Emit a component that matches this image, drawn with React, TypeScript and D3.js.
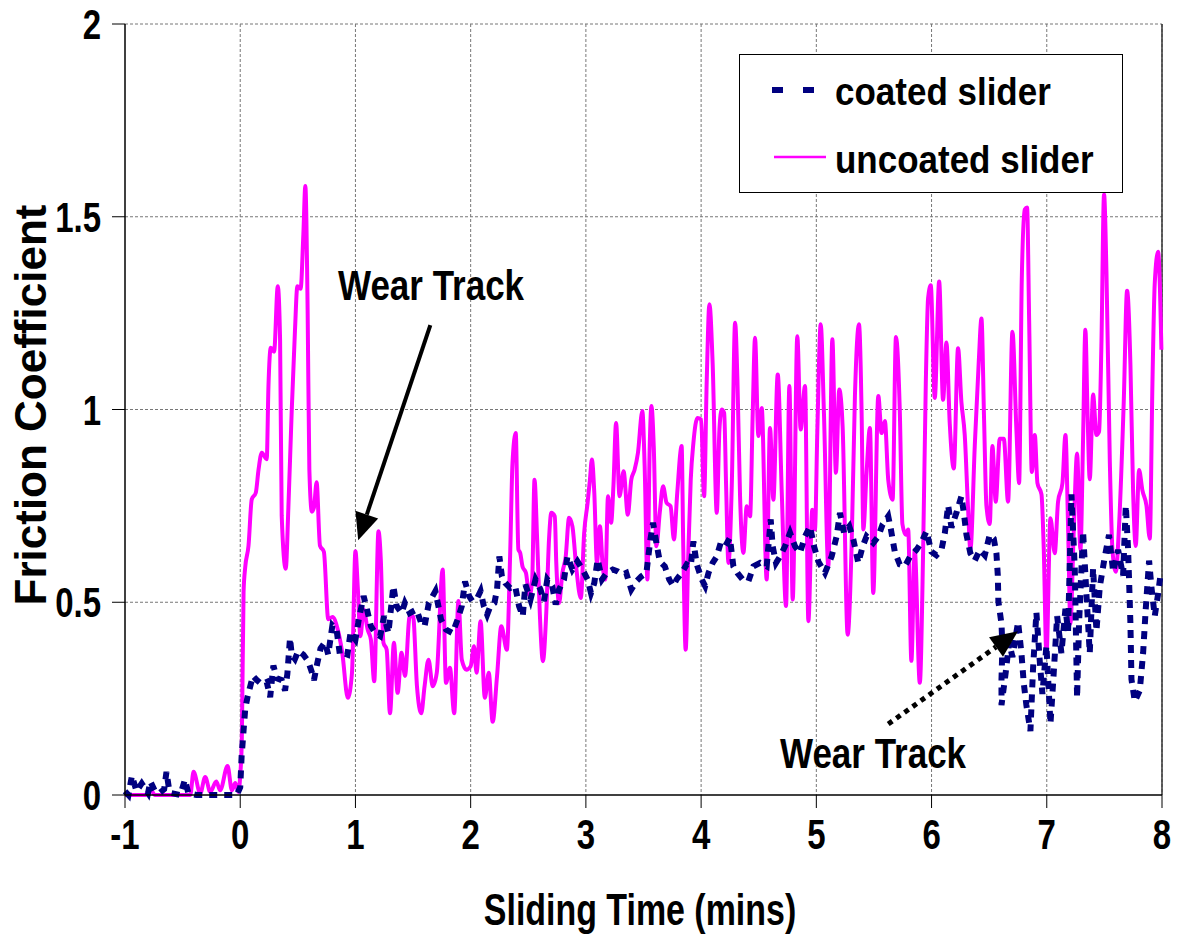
import React from 'react';
import * as d3 from 'd3';

// [sliding time (mins), friction coefficient]
const coatedSlider: [number, number][] = [
    [-1, 0.01], [-0.97, 0.0], [-0.94, 0.05], [-0.9, 0.01], [-0.855, 0.03], [-0.8, 0.005], [-0.78, 0.035],
    [-0.74, 0.01], [-0.7, 0.005], [-0.66, 0.015], [-0.64, 0.06], [-0.62, 0.02], [-0.6, 0.005], [-0.52, 0.0],
    [-0.48, 0.04], [-0.45, 0.005], [-0.38, 0.0], [-0.2, 0.0], [-0.03, 0.0], [0.0, 0.02], [0.012, 0.1],
    [0.029, 0.167], [0.043, 0.222], [0.063, 0.254], [0.11, 0.309], [0.144, 0.298], [0.187, 0.287], [0.23, 0.293],
    [0.26, 0.254], [0.288, 0.336], [0.317, 0.303], [0.36, 0.298], [0.389, 0.271], [0.409, 0.314], [0.432, 0.407],
    [0.447, 0.364], [0.475, 0.353], [0.504, 0.374], [0.548, 0.364], [0.59, 0.347], [0.62, 0.32], [0.64, 0.298],
    [0.669, 0.342], [0.697, 0.38], [0.735, 0.396], [0.764, 0.364], [0.784, 0.407], [0.8, 0.44], [0.836, 0.429],
    [0.865, 0.364], [0.886, 0.369], [0.93, 0.364], [0.957, 0.42], [1.0, 0.403], [1.029, 0.455], [1.071, 0.516],
    [1.1, 0.481], [1.134, 0.438], [1.171, 0.42], [1.214, 0.412], [1.249, 0.464], [1.286, 0.42], [1.329, 0.542],
    [1.357, 0.49], [1.4, 0.472], [1.429, 0.498], [1.471, 0.472], [1.529, 0.481], [1.571, 0.446], [1.6, 0.438],
    [1.637, 0.498], [1.694, 0.529], [1.743, 0.455], [1.786, 0.429], [1.843, 0.42], [1.886, 0.455], [1.923, 0.49],
    [1.951, 0.554], [1.986, 0.516], [2.014, 0.503], [2.057, 0.511], [2.086, 0.529], [2.114, 0.49], [2.143, 0.468],
    [2.171, 0.49], [2.206, 0.498], [2.229, 0.533], [2.249, 0.619], [2.271, 0.567], [2.3, 0.55], [2.343, 0.537],
    [2.386, 0.542], [2.42, 0.49], [2.452, 0.464], [2.475, 0.546], [2.519, 0.507], [2.563, 0.559], [2.606, 0.533],
    [2.636, 0.503], [2.665, 0.559], [2.708, 0.542], [2.738, 0.494], [2.767, 0.533], [2.81, 0.559], [2.84, 0.619],
    [2.883, 0.585], [2.927, 0.606], [2.971, 0.585], [3.015, 0.559], [3.044, 0.524], [3.073, 0.55], [3.102, 0.611],
    [3.14, 0.559], [3.181, 0.576], [3.233, 0.585], [3.277, 0.58], [3.321, 0.572], [3.35, 0.576], [3.394, 0.533],
    [3.437, 0.554], [3.481, 0.567], [3.525, 0.576], [3.56, 0.663], [3.583, 0.706], [3.612, 0.654], [3.641, 0.606],
    [3.685, 0.593], [3.723, 0.559], [3.758, 0.542], [3.787, 0.559], [3.831, 0.576], [3.875, 0.598], [3.91, 0.593],
    [3.933, 0.658], [3.962, 0.598], [4.006, 0.559], [4.035, 0.542], [4.064, 0.576], [4.1, 0.602], [4.136, 0.619],
    [4.17, 0.654], [4.208, 0.645], [4.25, 0.667], [4.28, 0.593], [4.315, 0.576], [4.361, 0.559], [4.41, 0.554],
    [4.454, 0.593], [4.512, 0.602], [4.569, 0.593], [4.604, 0.715], [4.621, 0.645], [4.65, 0.602], [4.685, 0.619],
    [4.728, 0.645], [4.772, 0.68], [4.815, 0.645], [4.858, 0.628], [4.902, 0.671], [4.945, 0.697], [4.98, 0.645],
    [5.017, 0.606], [5.075, 0.576], [5.133, 0.619], [5.176, 0.671], [5.205, 0.732], [5.24, 0.68], [5.286, 0.697],
    [5.321, 0.663], [5.364, 0.602], [5.402, 0.645], [5.436, 0.671], [5.494, 0.654], [5.538, 0.671], [5.575, 0.702],
    [5.624, 0.723], [5.647, 0.689], [5.681, 0.631], [5.724, 0.598], [5.768, 0.593], [5.811, 0.617], [5.869, 0.636],
    [5.912, 0.655], [5.956, 0.684], [5.999, 0.631], [6.042, 0.622], [6.086, 0.636], [6.115, 0.679], [6.144, 0.751],
    [6.173, 0.694], [6.216, 0.732], [6.259, 0.775], [6.28, 0.732], [6.303, 0.675], [6.337, 0.627], [6.375, 0.608],
    [6.419, 0.636], [6.462, 0.622], [6.505, 0.675], [6.54, 0.665], [6.563, 0.627], [6.575, 0.569], [6.58, 0.502],
    [6.607, 0.444], [6.615, 0.387], [6.607, 0.3], [6.607, 0.233], [6.644, 0.319], [6.673, 0.396], [6.702, 0.358],
    [6.751, 0.449], [6.78, 0.368], [6.8, 0.291], [6.823, 0.233], [6.858, 0.166], [6.881, 0.329], [6.91, 0.473],
    [6.939, 0.348], [6.962, 0.262], [6.997, 0.387], [7.032, 0.185], [7.055, 0.291], [7.09, 0.464], [7.127, 0.368],
    [7.162, 0.483], [7.185, 0.425], [7.214, 0.78], [7.243, 0.588], [7.263, 0.252], [7.28, 0.444], [7.315, 0.684],
    [7.344, 0.521], [7.373, 0.368], [7.402, 0.588], [7.431, 0.425], [7.46, 0.54], [7.503, 0.617], [7.54, 0.675],
    [7.576, 0.579], [7.619, 0.636], [7.662, 0.569], [7.686, 0.751], [7.706, 0.636], [7.726, 0.444], [7.735, 0.3],
    [7.764, 0.243], [7.807, 0.271], [7.836, 0.368], [7.859, 0.483], [7.888, 0.608], [7.908, 0.54], [7.937, 0.464],
    [7.966, 0.521], [7.986, 0.569], [8.0, 0.58],
];

const uncoatedSlider: [number, number][] = [
    [-1, 0], [-0.911, 0], [-0.825, 0], [-0.78, 0.015], [-0.74, 0], [-0.434, 0], [-0.405, 0.06], [-0.347, 0.004],
    [-0.304, 0.047], [-0.26, 0.008], [-0.208, 0.035], [-0.174, 0.012], [-0.11, 0.075], [-0.072, 0.012],
    [-0.043, 0.031], [-0.015, 0.008], [0.0, 0.05], [0.014, 0.145], [0.029, 0.527], [0.043, 0.59], [0.072, 0.647],
    [0.1, 0.767], [0.135, 0.784], [0.159, 0.844], [0.187, 0.888], [0.23, 0.871], [0.245, 1.06], [0.265, 1.16],
    [0.294, 1.15], [0.326, 1.32], [0.346, 1.18], [0.36, 0.724], [0.395, 0.587], [0.418, 0.746], [0.447, 0.997],
    [0.475, 1.204], [0.496, 1.32], [0.524, 1.313], [0.548, 1.455], [0.565, 1.58], [0.585, 1.259], [0.6, 0.844],
    [0.622, 0.735], [0.64, 0.746], [0.663, 0.811], [0.692, 0.647], [0.726, 0.631], [0.764, 0.456], [0.801, 0.462],
    [0.843, 0.433], [0.886, 0.368], [0.934, 0.252], [0.97, 0.317], [1.0, 0.632], [1.02, 0.54], [1.043, 0.412],
    [1.071, 0.481], [1.106, 0.429], [1.134, 0.403], [1.163, 0.295], [1.2, 0.684], [1.22, 0.611], [1.243, 0.395],
    [1.271, 0.377], [1.3, 0.212], [1.334, 0.395], [1.366, 0.265], [1.4, 0.369], [1.43, 0.309], [1.471, 0.464],
    [1.5, 0.464], [1.534, 0.282], [1.571, 0.212], [1.6, 0.282], [1.634, 0.351], [1.671, 0.282], [1.706, 0.317],
    [1.757, 0.585], [1.786, 0.291], [1.82, 0.33], [1.857, 0.212], [1.894, 0.503], [1.923, 0.351], [1.963, 0.325],
    [2.0, 0.334], [2.029, 0.386], [2.051, 0.317], [2.086, 0.451], [2.123, 0.252], [2.157, 0.317], [2.191, 0.19],
    [2.229, 0.309], [2.266, 0.438], [2.314, 0.377], [2.343, 0.628], [2.363, 0.861], [2.391, 0.939], [2.414, 0.637],
    [2.43, 0.628], [2.45, 0.593], [2.48, 0.576], [2.51, 0.516], [2.534, 0.559], [2.554, 0.818], [2.577, 0.663],
    [2.6, 0.472], [2.627, 0.347], [2.656, 0.472], [2.68, 0.663], [2.7, 0.732], [2.73, 0.723], [2.743, 0.602],
    [2.767, 0.498], [2.796, 0.576], [2.825, 0.619], [2.854, 0.719], [2.883, 0.697], [2.918, 0.585], [2.956, 0.511],
    [2.985, 0.68], [3.015, 0.758], [3.035, 0.818], [3.052, 0.87], [3.073, 0.784], [3.096, 0.602], [3.122, 0.697],
    [3.146, 0.593], [3.169, 0.559], [3.192, 0.775], [3.219, 0.706], [3.239, 0.801], [3.262, 0.965], [3.292, 0.775],
    [3.327, 0.84], [3.364, 0.727], [3.394, 0.818], [3.423, 0.844], [3.452, 0.888], [3.49, 0.996], [3.51, 0.853],
    [3.534, 0.559], [3.554, 0.905], [3.569, 1.009], [3.589, 0.905], [3.612, 0.645], [3.641, 0.732], [3.67, 0.801],
    [3.7, 0.758], [3.735, 0.749], [3.764, 0.663], [3.793, 0.784], [3.831, 0.905], [3.845, 0.645], [3.866, 0.377],
    [3.889, 0.628], [3.91, 0.818], [3.933, 0.913], [3.968, 0.978], [4.0, 0.974], [4.026, 0.775], [4.049, 1.078],
    [4.072, 1.273], [4.1, 1.121], [4.136, 0.732], [4.159, 0.948], [4.179, 1.0], [4.2, 0.991], [4.217, 0.801],
    [4.237, 0.602], [4.266, 0.801], [4.295, 1.225], [4.315, 1.078], [4.338, 0.775], [4.367, 0.628], [4.396, 0.749],
    [4.425, 0.723], [4.448, 0.991], [4.468, 1.186], [4.497, 0.931], [4.526, 1.004], [4.569, 0.559], [4.598, 0.952],
    [4.627, 0.766], [4.665, 1.091], [4.7, 0.784], [4.737, 0.49], [4.766, 1.061], [4.795, 0.507], [4.835, 1.19],
    [4.864, 0.948], [4.902, 1.061], [4.931, 0.451], [4.965, 0.74], [4.988, 0.689], [5.009, 0.948], [5.038, 1.221],
    [5.066, 0.991], [5.104, 0.593], [5.139, 1.182], [5.17, 0.836], [5.199, 1.052], [5.228, 0.957], [5.272, 0.416],
    [5.306, 0.645], [5.335, 1.035], [5.37, 1.221], [5.393, 0.991], [5.408, 0.689], [5.436, 0.836], [5.465, 0.952],
    [5.494, 0.524], [5.538, 1.035], [5.566, 0.939], [5.595, 0.97], [5.624, 0.818], [5.662, 0.766], [5.691, 1.188],
    [5.724, 1.001], [5.747, 0.703], [5.776, 0.675], [5.797, 0.689], [5.825, 0.348], [5.854, 0.636], [5.898, 0.291],
    [5.927, 0.636], [5.95, 1.068], [5.97, 1.289], [5.993, 1.322], [6.028, 1.03], [6.066, 1.332], [6.1, 1.025],
    [6.129, 1.174], [6.158, 0.963], [6.193, 0.847], [6.23, 1.159], [6.259, 1.02], [6.288, 0.934], [6.317, 0.742],
    [6.337, 0.636], [6.375, 0.905], [6.41, 1.126], [6.433, 1.236], [6.456, 0.972], [6.476, 0.751], [6.505, 0.703],
    [6.528, 0.905], [6.557, 0.761], [6.592, 0.924], [6.627, 0.924], [6.664, 0.761], [6.702, 1.202], [6.737, 0.943],
    [6.76, 0.809], [6.783, 1.337], [6.809, 1.519], [6.829, 1.524], [6.847, 1.231], [6.87, 0.838], [6.896, 0.934],
    [6.919, 0.809], [6.954, 0.78], [6.974, 0.636], [6.997, 0.363], [7.032, 0.718], [7.069, 0.627], [7.098, 0.761],
    [7.136, 0.809], [7.162, 0.934], [7.185, 0.694], [7.205, 0.444], [7.234, 0.684], [7.263, 0.886], [7.292, 0.636],
    [7.315, 0.924], [7.335, 1.207], [7.353, 1.001], [7.373, 0.819], [7.402, 1.039], [7.431, 0.934], [7.454, 0.943],
    [7.474, 1.164], [7.497, 1.558], [7.518, 1.356], [7.547, 0.867], [7.57, 0.636], [7.599, 0.579], [7.628, 0.703],
    [7.668, 1.02], [7.697, 1.308], [7.726, 1.116], [7.749, 0.79], [7.772, 0.646], [7.801, 0.843], [7.83, 0.79],
    [7.865, 0.751], [7.894, 0.665], [7.917, 1.068], [7.937, 1.327], [7.966, 1.409], [7.995, 1.155],
];

const xTicks = [-1, 0, 1, 2, 3, 4, 5, 6, 7, 8];
const yTicks = [0, 0.5, 1, 1.5, 2];
const yTickLabels = ['0', '0.5', '1', '1.5', '2'];
const seriesNames = ['coated slider', 'uncoated slider'];
const annotations = [
    { label: 'Wear Track', from: [1.65, 1.219], to: [1.024, 0.661], dotted: false },
    { label: 'Wear Track', from: [5.624, 0.184], to: [6.75, 0.425], dotted: true },
];

const W = 1184;
const H = 941;
const FONT = "'Liberation Sans', Arial, sans-serif";

// text that is stretched vertically, like the original picture
function Txt({ x, y, size, sy = 1, sx = 1, anchor = 'start', rotate = 0, children }: any) {
    return (
        <text
            transform={`translate(${x},${y}) rotate(${rotate}) scale(${sx},${sy})`}
            fontFamily={FONT}
            fontWeight={700}
            fontSize={size}
            textAnchor={anchor}
            fill="#000"
        >
            {children}
        </text>
    );
}

function Arrow({ x1, y1, x2, y2, dotted }: any) {
    const ang = Math.atan2(y2 - y1, x2 - x1);
    const len = 27;
    const half = 12;
    const bx = x2 - len * Math.cos(ang);
    const by = y2 - len * Math.sin(ang);
    const px = -Math.sin(ang) * half;
    const py = Math.cos(ang) * half;
    return (
        <g>
            <line
                x1={x1} y1={y1} x2={bx} y2={by}
                stroke="#000"
                strokeWidth={dotted ? 5 : 4}
                strokeDasharray={dotted ? '5 5' : undefined}
            />
            <polygon points={`${x2},${y2} ${bx + px},${by + py} ${bx - px},${by - py}`} fill="#000" />
        </g>
    );
}

export default function App() {
    const x = d3.scaleLinear().domain([-1, 8]).range([125, 1162]);
    const y = d3.scaleLinear().domain([0, 2]).range([795, 24]);

    const line = d3.line<[number, number]>()
        .x(d => x(d[0]))
        .y(d => y(d[1]));
    const smooth = d3.line<[number, number]>()
        .x(d => x(d[0]))
        .y(d => y(d[1]))
        .curve(d3.curveMonotoneX);

    return (
        <div style={{ position: 'absolute', left: 0, top: 0, background: '#fff' }}>
            <svg width={W} height={H} style={{ display: 'block' }}>
                <rect x={0} y={0} width={W} height={H} fill="#fff" />

                {/* grid */}
                {xTicks.slice(1).map(t => (
                    <line key={'gx' + t} x1={x(t)} x2={x(t)} y1={y(2)} y2={y(0)}
                        stroke="#777" strokeWidth={1} strokeDasharray="3 2" />
                ))}
                {yTicks.slice(1).map(t => (
                    <line key={'gy' + t} x1={x(-1)} x2={x(8)} y1={y(t)} y2={y(t)}
                        stroke="#777" strokeWidth={1} strokeDasharray="3 2" />
                ))}
                <line x1={x(8)} x2={x(8)} y1={y(2)} y2={y(0)} stroke="#333" strokeWidth={1.5} />

                {/* series */}
                <path d={smooth(uncoatedSlider) || ''} fill="none" stroke="#ff00ff" strokeWidth={4} strokeLinejoin="round" />
                <path d={line(coatedSlider) || ''} fill="none" stroke="#000080" strokeWidth={6}
                    strokeDasharray="8 7" />

                {/* axes */}
                <line x1={x(-1)} x2={x(-1)} y1={y(2)} y2={y(0)} stroke="#000" strokeWidth={1.5} />
                <line x1={x(-1)} x2={x(8)} y1={y(0)} y2={y(0)} stroke="#000" strokeWidth={1.5} />
                {xTicks.map(t => (
                    <line key={'tx' + t} x1={x(t)} x2={x(t)} y1={y(0)} y2={y(0) + 13} stroke="#000" strokeWidth={1} />
                ))}
                {yTicks.map(t => (
                    <line key={'ty' + t} x1={x(-1) - 13} x2={x(-1)} y1={y(t)} y2={y(t)} stroke="#000" strokeWidth={1} />
                ))}

                {xTicks.map(t => (
                    <Txt key={'lx' + t} x={x(t)} y={849} size={33} sy={1.3} anchor="middle">{String(t)}</Txt>
                ))}
                {yTicks.map((t, i) => (
                    <Txt key={'ly' + t} x={101} y={y(t) + 15} size={33} sy={1.3} anchor="end">{yTickLabels[i]}</Txt>
                ))}

                <Txt x={640} y={925} size={35} sx={0.97} sy={1.25} anchor="middle">Sliding Time (mins)</Txt>
                <Txt x={46} y={405} size={44} rotate={-90} anchor="middle">Friction Coefficient</Txt>

                {/* annotations */}
                {annotations.map((a, i) => (
                    <Arrow key={'ar' + i} x1={x(a.from[0])} y1={y(a.from[1])} x2={x(a.to[0])} y2={y(a.to[1])} dotted={a.dotted} />
                ))}
                <Txt x={338} y={300} size={35} sy={1.2}>{annotations[0].label}</Txt>
                <Txt x={780} y={768} size={35} sy={1.2}>{annotations[1].label}</Txt>

                {/* legend */}
                <rect x={739.5} y={54.5} width={383} height={138} fill="#fff" stroke="#000" strokeWidth={1} />
                <line x1={772} x2={814} y1={90} y2={90} stroke="#000080" strokeWidth={6} strokeDasharray="11 20" />
                <line x1={774} x2={826} y1={157} y2={157} stroke="#ff00ff" strokeWidth={2.5} />
                <Txt x={835} y={105} size={35} sy={1.12}>{seriesNames[0]}</Txt>
                <Txt x={835} y={173} size={35} sy={1.12}>{seriesNames[1]}</Txt>
            </svg>
        </div>
    );
}
